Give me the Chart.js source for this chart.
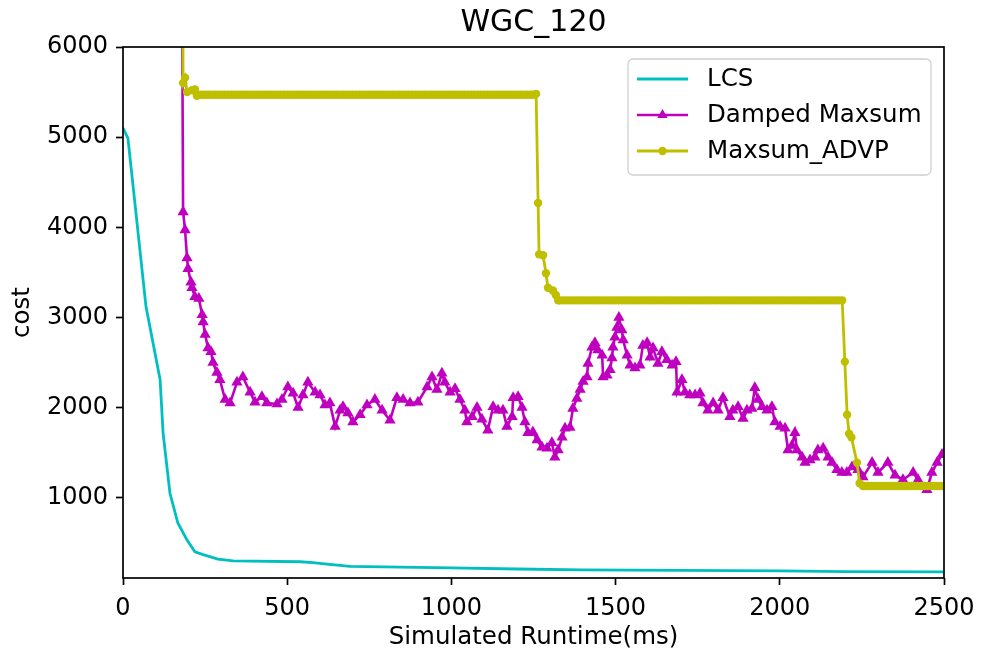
<!DOCTYPE html>
<html><head><meta charset="utf-8">
<script src="https://cdn.jsdelivr.net/npm/chart.js@4/dist/chart.umd.min.js"></script>
<style>html,body{margin:0;padding:0;background:#fff}#wrap{width:987px;height:657px;position:relative}</style>
</head><body><div id="wrap"><canvas id="c" width="987" height="657"></canvas></div>
<script>
const chartTitle = 'WGC_120';
const xLabel = 'Simulated Runtime(ms)';
const yLabel = 'cost';
const xTicks = [0, 500, 1000, 1500, 2000, 2500];
const yTicks = [1000, 2000, 3000, 4000, 5000, 6000];
const seriesNames = ['LCS', 'Damped Maxsum', 'Maxsum_ADVP'];

const lcsTime = [0,15,70,113,122,143,167,195,219,244,289,335,539,579,606,691,843,1000,1200,1400,1700,2000,2200,2500];
const lcsCost = [5100,4990,3120,2310,1720,1050,720,530,400,370,320,300,290,280,270,240,230,222,210,200,195,190,180,178];

const dampedTime = [
178,183,189,195,198,207,210,219,231,241,
244,250,259,268,274,286,295,311,326,347,
365,387,402,423,438,469,484,502,518,533,
548,563,585,600,615,630,646,661,670,685,
700,722,743,767,789,813,834,853,874,898,
926,941,956,971,980,996,1011,1026,1041,1047,
1063,1078,1093,1111,1127,1142,1157,1169,1185,1188,
1203,1215,1224,1233,1248,1261,1276,1291,1306,1315,
1325,1337,1346,1361,1370,1382,1392,1401,1413,1416,
1428,1437,1446,1459,1462,1474,1483,1489,1492,1498,
1504,1510,1519,1523,1535,1544,1559,1574,1583,1596,
1605,1614,1629,1641,1656,1672,1684,1687,1702,1711,
1726,1742,1757,1766,1781,1797,1812,1827,1848,1857,
1873,1888,1900,1915,1924,1934,1946,1961,1976,1985,
2001,2016,2025,2037,2046,2052,2068,2077,2092,2107,
2116,2132,2147,2159,2174,2189,2204,2220,2238,2253,
2281,2299,2329,2351,2375,2406,2421,2448,2463,2479,
2494,2500];
const dampedCost = [
8000,4170,3970,3660,3540,3390,3330,3230,3210,3030,
2950,2810,2660,2620,2500,2390,2310,2090,2050,2280,
2340,2170,2060,2120,2050,2040,2090,2230,2160,2000,
2140,2280,2170,2140,2030,2050,1790,1970,2010,1940,
1840,1920,2030,2090,1970,1860,2110,2090,2050,2060,
2230,2340,2200,2380,2280,2170,2210,2090,1970,1840,
1900,2000,1870,1750,2010,1970,1970,1790,1900,2110,
2120,2000,1840,1720,1730,1640,1560,1550,1610,1450,
1530,1670,1770,1780,1990,2100,2200,2290,2340,2490,
2670,2720,2640,2580,2340,2360,2420,2550,2670,2780,
2890,3000,2860,2750,2580,2470,2440,2470,2690,2720,
2560,2660,2490,2620,2530,2470,2510,2170,2310,2170,
2140,2140,2160,2050,1970,2050,1970,2110,1900,1970,
2010,1880,1970,1990,2220,2090,2010,1970,2010,1840,
1790,1770,1530,1580,1720,1530,1450,1390,1420,1450,
1530,1550,1450,1390,1310,1280,1280,1340,1310,1230,
1390,1280,1390,1250,1200,1280,1200,1090,1280,1390,
1480,1480];

const advpTime = [
180,183,189,195,210,219,225,
230,240,250,260,270,280,290,300,310,320,330,340,350,360,370,380,390,400,410,420,430,440,450,460,
470,480,490,500,510,520,530,540,550,560,570,580,590,600,610,620,630,640,650,660,670,680,690,700,
710,720,730,740,750,760,770,780,790,800,810,820,830,840,850,860,870,880,890,900,910,920,930,940,
950,960,970,980,990,1000,1010,1020,1030,1040,1050,1060,1070,1080,1090,1100,1110,1120,1130,1140,
1150,1160,1170,1180,1190,1200,1210,1220,1230,1240,1250,1258,
1264,1267,1279,1288,1294,1309,1318,1325,
1330,1340,1350,1360,1370,1380,1390,1400,1410,1420,1430,1440,1450,1460,1470,1480,1490,1500,1510,
1520,1530,1540,1550,1560,1570,1580,1590,1600,1610,1620,1630,1640,1650,1660,1670,1680,1690,1700,
1710,1720,1730,1740,1750,1760,1770,1780,1790,1800,1810,1820,1830,1840,1850,1860,1870,1880,1890,
1900,1910,1920,1930,1940,1950,1960,1970,1980,1990,2000,2010,2020,2030,2040,2050,2060,2070,2080,
2090,2100,2110,2120,2130,2140,2150,2160,2170,2180,2190,
2198,2205,2211,2218,2235,2243,2253,
2260,2270,2280,2290,2300,2310,2320,2330,2340,2350,2360,2370,2380,2390,2400,2410,2420,2430,2440,
2450,2460,2470,2480,2490,2500];
const advpCost = [
9000,5600,5660,5500,5520,5530,5460,
5470,5470,5470,5470,5470,5470,5470,5470,5470,5470,5470,5470,5470,5470,5470,5470,5470,5470,5470,5470,5470,5470,5470,5470,
5470,5470,5470,5470,5470,5470,5470,5470,5470,5470,5470,5470,5470,5470,5470,5470,5470,5470,5470,5470,5470,5470,5470,5470,
5470,5470,5470,5470,5470,5470,5470,5470,5470,5470,5470,5470,5470,5470,5470,5470,5470,5470,5470,5470,5470,5470,5470,5470,
5470,5470,5470,5470,5470,5470,5470,5470,5470,5470,5470,5470,5470,5470,5470,5470,5470,5470,5470,5470,
5470,5470,5470,5470,5470,5470,5470,5470,5470,5470,5470,5480,
4270,3700,3690,3490,3330,3300,3250,3190,
3190,3190,3190,3190,3190,3190,3190,3190,3190,3190,3190,3190,3190,3190,3190,3190,3190,3190,3190,
3190,3190,3190,3190,3190,3190,3190,3190,3190,3190,3190,3190,3190,3190,3190,3190,3190,3190,3190,
3190,3190,3190,3190,3190,3190,3190,3190,3190,3190,3190,3190,3190,3190,3190,3190,3190,3190,3190,
3190,3190,3190,3190,3190,3190,3190,3190,3190,3190,3190,3190,3190,3190,3190,3190,3190,3190,3190,
3190,3190,3190,3190,3190,3190,3190,3190,3190,3190,3190,
2510,1920,1710,1670,1390,1160,1130,
1130,1130,1130,1130,1130,1130,1130,1130,1130,1130,1130,1130,1130,1130,1130,1130,1130,1130,1130,
1130,1130,1130,1130,1130,1130];

const colors = ['#00bfbf', '#bf00bf', '#bfbf00'];
const FONT = "'DejaVu Sans', sans-serif";
const toPts = (xs, ys) => xs.map((x, i) => ({x: x, y: ys[i]}));

const framePlugin = {
  id: 'frame',
  afterDatasetsDraw(chart) {
    const {ctx, chartArea: a} = chart;
    ctx.save();
    ctx.strokeStyle = '#000';
    ctx.lineWidth = 1.7;
    ctx.strokeRect(a.left, a.top, a.right - a.left, a.bottom - a.top);
    ctx.restore();
  }
};

const legendPlugin = {
  id: 'mplLegend',
  afterDraw(chart) {
    const ctx = chart.ctx;
    const x0 = 628, y0 = 59, w = 303, h = 116, r = 5;
    ctx.save();
    ctx.fillStyle = 'rgba(255,255,255,0.85)';
    ctx.strokeStyle = '#d0d0d0';
    ctx.lineWidth = 1.3;
    ctx.beginPath();
    ctx.moveTo(x0 + r, y0);
    ctx.arcTo(x0 + w, y0, x0 + w, y0 + h, r);
    ctx.arcTo(x0 + w, y0 + h, x0, y0 + h, r);
    ctx.arcTo(x0, y0 + h, x0, y0, r);
    ctx.arcTo(x0, y0, x0 + w, y0, r);
    ctx.closePath();
    ctx.fill();
    ctx.stroke();
    ctx.font = '24.5px ' + FONT;
    ctx.textBaseline = 'middle';
    const rows = [79, 115, 151];
    chart.data.datasets.forEach((ds, i) => {
      const y = rows[i];
      ctx.strokeStyle = ds.borderColor;
      ctx.lineWidth = ds.borderWidth;
      ctx.beginPath(); ctx.moveTo(637, y); ctx.lineTo(688, y); ctx.stroke();
      ctx.fillStyle = ds.borderColor;
      if (ds.pointStyle === 'triangle') {
        const s = 6;
        ctx.beginPath(); ctx.moveTo(662.5, y - s); ctx.lineTo(662.5 + s * 0.87, y + s * 0.5); ctx.lineTo(662.5 - s * 0.87, y + s * 0.5); ctx.closePath(); ctx.fill();
      } else if (ds.pointRadius > 0) {
        ctx.beginPath(); ctx.arc(662.5, y, 4.2, 0, Math.PI * 2); ctx.fill();
      }
      ctx.fillStyle = '#000';
      ctx.fillText(ds.label, 707, y + 1);
    });
    ctx.font = '30px ' + FONT;
    ctx.textAlign = 'center';
    ctx.fillText(chartTitle, 533.5, 23);
    ctx.restore();
  }
};

const tickFont = {family: FONT, size: 24};
const plainTick = v => String(v);

new Chart(document.getElementById('c'), {
  type: 'line',
  data: {
    datasets: [
      {label: seriesNames[0], data: toPts(lcsTime, lcsCost), borderColor: colors[0], backgroundColor: colors[0],
       borderWidth: 2.8, pointRadius: 0, order: 3, tension: 0},
      {label: seriesNames[1], data: toPts(dampedTime, dampedCost), borderColor: colors[1], backgroundColor: colors[1],
       borderWidth: 2.6, pointStyle: 'triangle', pointRadius: 6.5, pointBorderWidth: 0, pointBackgroundColor: colors[1], order: 2, tension: 0},
      {label: seriesNames[2], data: toPts(advpTime, advpCost), borderColor: colors[2], backgroundColor: colors[2],
       borderWidth: 2.8, pointStyle: 'circle', pointRadius: 4.2, pointBorderWidth: 0, pointBackgroundColor: colors[2], order: 1, tension: 0}
    ]
  },
  options: {
    responsive: false,
    animation: false,
    devicePixelRatio: 1,
    layout: {padding: {top: 47, right: 43, left: 0, bottom: 0}},
    plugins: {legend: {display: false}, tooltip: {enabled: false}, title: {display: false}},
    scales: {
      x: {
        type: 'linear', min: 0, max: 2500,
        afterBuildTicks: s => { s.ticks = xTicks.map(v => ({value: v})); },
        afterFit: s => { s.height = 79; },
        ticks: {font: tickFont, color: '#000', padding: 9, maxRotation: 0, callback: plainTick},
        grid: {drawOnChartArea: false, drawTicks: true, tickLength: 7, tickColor: '#000', tickWidth: 1.7},
        border: {display: false},
        title: {display: true, text: xLabel, font: {family: FONT, size: 24.5}, color: '#000', padding: {bottom: 5}}
      },
      y: {
        type: 'linear', min: 110, max: 6000,
        afterBuildTicks: s => { s.ticks = yTicks.map(v => ({value: v})); },
        afterFit: s => { s.width = 123; },
        ticks: {font: tickFont, color: '#000', padding: 8, callback: plainTick},
        grid: {drawOnChartArea: false, drawTicks: true, tickLength: 7, tickColor: '#000', tickWidth: 1.7},
        border: {display: false},
        title: {display: true, text: yLabel, font: {family: FONT, size: 24.5}, color: '#000', padding: {top: 8}}
      }
    }
  },
  plugins: [framePlugin, legendPlugin]
});
</script></body></html>
